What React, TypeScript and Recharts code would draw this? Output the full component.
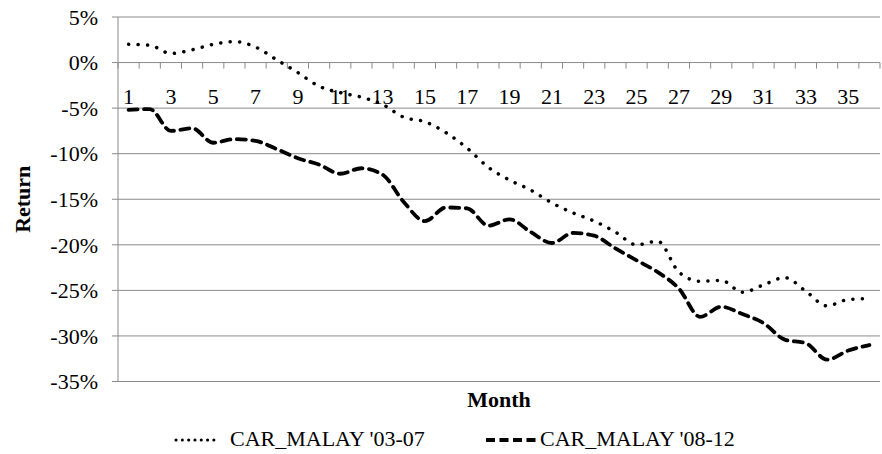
import React from 'react';
import { LineChart, Line, XAxis, YAxis, CartesianGrid, Legend } from 'recharts';

const months: number[] = Array.from({ length: 36 }, (_, i) => i + 1);

const car0307: number[] = [
  2.0, 1.9, 1.0, 1.4, 2.0, 2.3, 1.7, 0.3, -1.1, -2.6, -3.3, -3.8,
  -4.6, -6.0, -6.5, -7.7, -9.4, -11.5, -12.9, -14.0, -15.4, -16.5, -17.4, -18.6,
  -20.0, -19.6, -23.0, -24.0, -23.9, -25.2, -24.4, -23.6, -25.1, -26.7, -26.0, -25.9,
];

const car0812: number[] = [
  -5.2, -5.1, -7.5, -7.2, -8.8, -8.4, -8.6, -9.5, -10.5, -11.2, -12.2, -11.6,
  -12.3, -15.3, -17.4, -15.9, -16.0, -17.9, -17.2, -18.6, -19.8, -18.7, -19.0, -20.4,
  -21.7, -23.0, -24.8, -27.9, -26.8, -27.6, -28.6, -30.4, -30.8, -32.6, -31.6, -31.0,
];

const yTicks: number[] = [-35, -30, -25, -20, -15, -10, -5, 0, 5];
const seriesNames = ["CAR_MALAY '03-07", "CAR_MALAY '08-12"];

const data = months.map((m, i) => ({ month: m, a: car0307[i], b: car0812[i] }));

const CHART_W = 882;
const CHART_H = 454;
const M_TOP = 17;
const M_RIGHT = 2;
const Y_AXIS_W = 118;
const X_AXIS_H = 72.5;
const Y_MIN = -35;
const Y_MAX = 5;
const PLOT_H = CHART_H - M_TOP - X_AXIS_H;
const PLOT_W = CHART_W - Y_AXIS_W - M_RIGHT;
const ZERO_Y = M_TOP + (PLOT_H * (Y_MAX - 0)) / (Y_MAX - Y_MIN);
const BAND = PLOT_W / months.length;

const FONT = '"Liberation Serif", "Times New Roman", serif';
const GRAY = '#8a8a8a';

const MonthTick = (props: any) => {
  const { x, payload, index } = props;
  const idx = typeof index === 'number' ? index : months.indexOf(payload.value);
  const left = x - BAND / 2;
  const isLast = idx === months.length - 1;
  return (
    <g>
      <line x1={left} x2={left} y1={ZERO_Y} y2={ZERO_Y + 6} stroke={GRAY} strokeWidth={1} />
      {isLast && (
        <line x1={x + BAND / 2} x2={x + BAND / 2} y1={ZERO_Y} y2={ZERO_Y + 6} stroke={GRAY} strokeWidth={1} />
      )}
      {idx % 2 === 0 && (
        <text x={x} y={ZERO_Y + 41.5} textAnchor="middle" fontFamily={FONT} fontSize={22} fill="#000">
          {payload.value}
        </text>
      )}
    </g>
  );
};

const LegendContent = () => (
  <div style={{ position: 'relative', height: 25, fontFamily: FONT, fontSize: 22, lineHeight: '25px', color: '#000' }}>
    <div style={{ position: 'absolute', left: 174, top: 0, display: 'flex', alignItems: 'flex-start', whiteSpace: 'nowrap' }}>
      <svg width={47} height={25} style={{ display: 'block' }}>
        <line x1={2} x2={46} y1={14} y2={14} stroke="#000" strokeWidth={3} strokeDasharray="0.1 6.2" strokeLinecap="round" />
      </svg>
      <span style={{ marginLeft: 9 }}>{seriesNames[0]}</span>
    </div>
    <div style={{ position: 'absolute', left: 484, top: 0, display: 'flex', alignItems: 'flex-start', whiteSpace: 'nowrap' }}>
      <svg width={54} height={25} style={{ display: 'block' }}>
        <line x1={2} x2={54} y1={14} y2={14} stroke="#000" strokeWidth={4} strokeDasharray="9 4.5" strokeLinecap="butt" />
      </svg>
      <span style={{ marginLeft: 2 }}>{seriesNames[1]}</span>
    </div>
  </div>
);

const ReturnLabel = (props: any) => {
  const vb = props.viewBox || { x: 0, y: M_TOP, width: Y_AXIS_W, height: PLOT_H };
  const cx = 22.5;
  const cy = vb.y + vb.height / 2;
  return (
    <text
      x={cx}
      y={cy}
      transform={`rotate(-90, ${cx}, ${cy})`}
      textAnchor="middle"
      dominantBaseline="central"
      fontFamily={FONT}
      fontSize={22}
      fontWeight="bold"
      fill="#000"
    >
      Return
    </text>
  );
};

const MonthLabel = (props: any) => {
  const vb = props.viewBox || { x: Y_AXIS_W, y: M_TOP + PLOT_H, width: PLOT_W, height: X_AXIS_H };
  const cx = vb.x + vb.width / 2;
  return (
    <text x={cx} y={vb.y + 25.5} textAnchor="middle" fontFamily={FONT} fontSize={22} fontWeight="bold" fill="#000">
      Month
    </text>
  );
};

export default function App() {
  return (
    <div style={{ position: 'absolute', left: 0, top: 0, width: CHART_W, height: CHART_H, background: '#fff' }}>
      <LineChart width={CHART_W} height={CHART_H} data={data} margin={{ top: M_TOP, right: M_RIGHT, left: 0, bottom: 0 }}>
        <CartesianGrid vertical={false} stroke={GRAY} strokeWidth={1} />
        <XAxis
          dataKey="month"
          scale="band"
          type="category"
          height={X_AXIS_H}
          axisLine={false}
          tickLine={false}
          interval={0}
          tick={<MonthTick />}
          label={<MonthLabel />}
        />
        <YAxis
          width={Y_AXIS_W}
          domain={[Y_MIN, Y_MAX]}
          ticks={yTicks}
          interval={0}
          allowDataOverflow
          tickFormatter={(v: number) => `${v}%`}
          axisLine={{ stroke: GRAY, strokeWidth: 1 }}
          tickLine={{ stroke: GRAY, strokeWidth: 1 }}
          tickSize={6}
          tickMargin={14}
          tick={{ fontFamily: FONT, fontSize: 22, fill: '#000' }}
          label={<ReturnLabel />}
        />
        <Line
          dataKey="a"
          name={seriesNames[0]}
          type="monotone"
          stroke="#000"
          strokeWidth={3.5}
          strokeDasharray="0.1 9.4"
          strokeLinecap="round"
          dot={false}
          activeDot={false}
          isAnimationActive={false}
        />
        <Line
          dataKey="b"
          name={seriesNames[1]}
          type="monotone"
          stroke="#000"
          strokeWidth={3.8}
          strokeDasharray="9 6.5"
          strokeLinecap="round"
          dot={false}
          activeDot={false}
          isAnimationActive={false}
        />
        <Legend
          layout="horizontal"
          verticalAlign="middle"
          align="center"
          wrapperStyle={{ top: 426, left: 0, width: CHART_W, height: 25 }}
          content={<LegendContent />}
        />
      </LineChart>
    </div>
  );
}
